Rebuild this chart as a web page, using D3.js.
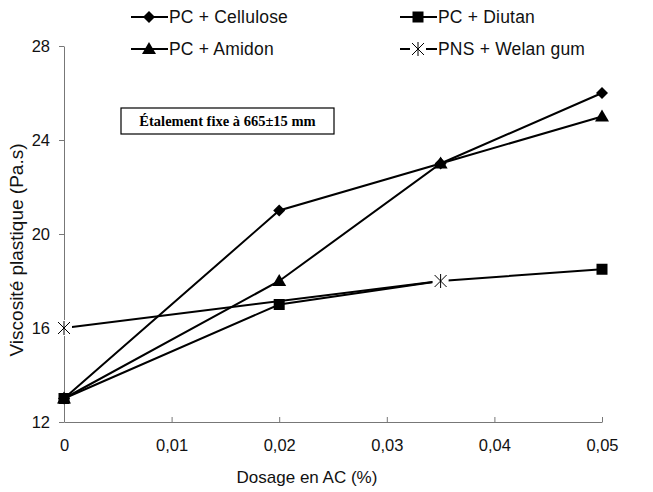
<!DOCTYPE html>
<html>
<head>
<meta charset="utf-8">
<script src="https://cdn.jsdelivr.net/npm/d3@7"></script>
<style>
  body { margin: 0; background: #fff; }
  svg { display: block; font-family: 'Liberation Sans', Arial, sans-serif; }
</style>
</head>
<body>
<svg id="chart" width="653" height="492"></svg>
<script>
// data
const xTicks = [0, 0.01, 0.02, 0.03, 0.04, 0.05]
const yTicks = [12, 16, 20, 24, 28]

const celluloseX = [0, 0.02, 0.035, 0.05]
const celluloseY = [13, 21, 23, 26]
const amidonX = [0, 0.02, 0.035, 0.05]
const amidonY = [13, 18, 23, 25]
const diutanX = [0, 0.02, 0.035, 0.05]
const diutanY = [13, 17, 18, 18.5]
const welanX = [0, 0.035]
const welanY = [16, 18]

const series = [
  { name: 'PC + Cellulose', xs: celluloseX, ys: celluloseY, marker: 'diamond' },
  { name: 'PC + Diutan', xs: diutanX, ys: diutanY, marker: 'square' },
  { name: 'PC + Amidon', xs: amidonX, ys: amidonY, marker: 'triangle' },
  { name: 'PNS + Welan gum', xs: welanX, ys: welanY, marker: 'star' },
]

const margin = { top: 46, right: 51, bottom: 70, left: 64 }
const width = 653
const height = 492
const chartWidth = width - margin.left - margin.right
const chartHeight = height - margin.top - margin.bottom

const svg = d3.select('#chart')
const viz = svg.append('g').attr('transform', `translate(${margin.left},${margin.top})`)

const x = d3.scaleLinear([0, 0.05], [0, chartWidth])
const y = d3.scaleLinear([12, 28], [chartHeight, 0])
const fmt = (d) => (d === 0 ? '0' : d3.format('.2f')(d).replace('.', ','))

// axes
const xAxis = viz
  .append('g')
  .attr('transform', `translate(0,${chartHeight})`)
  .call(d3.axisBottom(x).tickValues(xTicks).tickSizeInner(-5).tickSizeOuter(0).tickPadding(17).tickFormat(fmt))
const yAxis = viz
  .append('g')
  .call(d3.axisLeft(y).tickValues(yTicks).tickSize(5).tickSizeOuter(0).tickPadding(9))

for (const ax of [xAxis, yAxis]) {
  ax.select('.domain').attr('stroke', '#777').attr('stroke-width', 1)
  ax.selectAll('.tick line').attr('stroke', '#777')
  ax.selectAll('.tick text').attr('font-size', 16.5).attr('fill', '#111')
}

// axis titles
svg
  .append('text')
  .attr('x', 307)
  .attr('y', 483)
  .attr('text-anchor', 'middle')
  .attr('font-size', 17)
  .attr('fill', '#111')
  .text('Dosage en AC (%)')
svg
  .append('text')
  .attr('transform', `translate(23,250) rotate(-90)`)
  .attr('text-anchor', 'middle')
  .attr('font-size', 19)
  .attr('fill', '#111')
  .text('Viscosité plastique (Pa.s)')

// markers
function drawMarker(g, type, cx, cy) {
  if (type === 'diamond') {
    g.append('path').attr('d', `M${cx},${cy - 6}L${cx + 6},${cy}L${cx},${cy + 6}L${cx - 6},${cy}Z`).attr('fill', '#000')
  } else if (type === 'square') {
    g.append('rect').attr('x', cx - 5.5).attr('y', cy - 5.5).attr('width', 11).attr('height', 11).attr('fill', '#000')
  } else if (type === 'triangle') {
    g.append('path').attr('d', `M${cx},${cy - 7}L${cx + 7},${cy + 5}L${cx - 7},${cy + 5}Z`).attr('fill', '#000')
  } else if (type === 'star') {
    g.append('rect').attr('x', cx - 8).attr('y', cy - 8).attr('width', 16).attr('height', 16).attr('fill', '#fff')
    g.append('path')
      .attr('d', `M${cx - 6},${cy - 6}L${cx + 6},${cy + 6}M${cx + 6},${cy - 6}L${cx - 6},${cy + 6}M${cx},${cy - 7}L${cx},${cy + 7}`)
      .attr('stroke', '#000')
      .attr('stroke-width', 1)
      .attr('fill', 'none')
  }
}

const line = d3.line()
series.forEach((s) => {
  const pts = s.xs.map((v, i) => [x(v), y(s.ys[i])])
  viz.append('path').attr('d', line(pts)).attr('fill', 'none').attr('stroke', '#000').attr('stroke-width', 2)
})
series.forEach((s) => {
  const g = viz.append('g')
  s.xs.forEach((v, i) => drawMarker(g, s.marker, x(v), y(s.ys[i])))
})

// annotation box
const note = svg.append('g')
note.append('rect').attr('x', 121).attr('y', 108).attr('width', 213).attr('height', 26).attr('fill', '#fff').attr('stroke', '#000').attr('stroke-width', 1.2)
note
  .append('text')
  .attr('x', 227.5)
  .attr('y', 126)
  .attr('text-anchor', 'middle')
  .attr('font-family', "'Liberation Serif', 'Times New Roman', serif")
  .attr('font-weight', 'bold')
  .attr('font-size', 14.5)
  .text('Étalement fixe à 665±15 mm')

// legend
const legendItems = [
  { name: 'PC + Cellulose', marker: 'diamond', lx: 131, ly: 17 },
  { name: 'PC + Diutan', marker: 'square', lx: 400, ly: 17 },
  { name: 'PC + Amidon', marker: 'triangle', lx: 131, ly: 49 },
  { name: 'PNS + Welan gum', marker: 'star', lx: 400, ly: 49 },
]
const legendLayer = svg.append('g').attr('id', 'legend')
legendItems.forEach((d) => {
  const g = legendLayer.append('g')
  g.append('line').attr('x1', d.lx).attr('x2', d.lx + 37).attr('y1', d.ly).attr('y2', d.ly).attr('stroke', '#000').attr('stroke-width', 2)
  drawMarker(g, d.marker, d.lx + 18, d.ly)
  g.append('text').attr('x', d.lx + 38).attr('y', d.ly + 6).attr('font-size', 17.5).attr('letter-spacing', 0.2).attr('fill', '#111').text(d.name)
})
</script>
</body>
</html>
